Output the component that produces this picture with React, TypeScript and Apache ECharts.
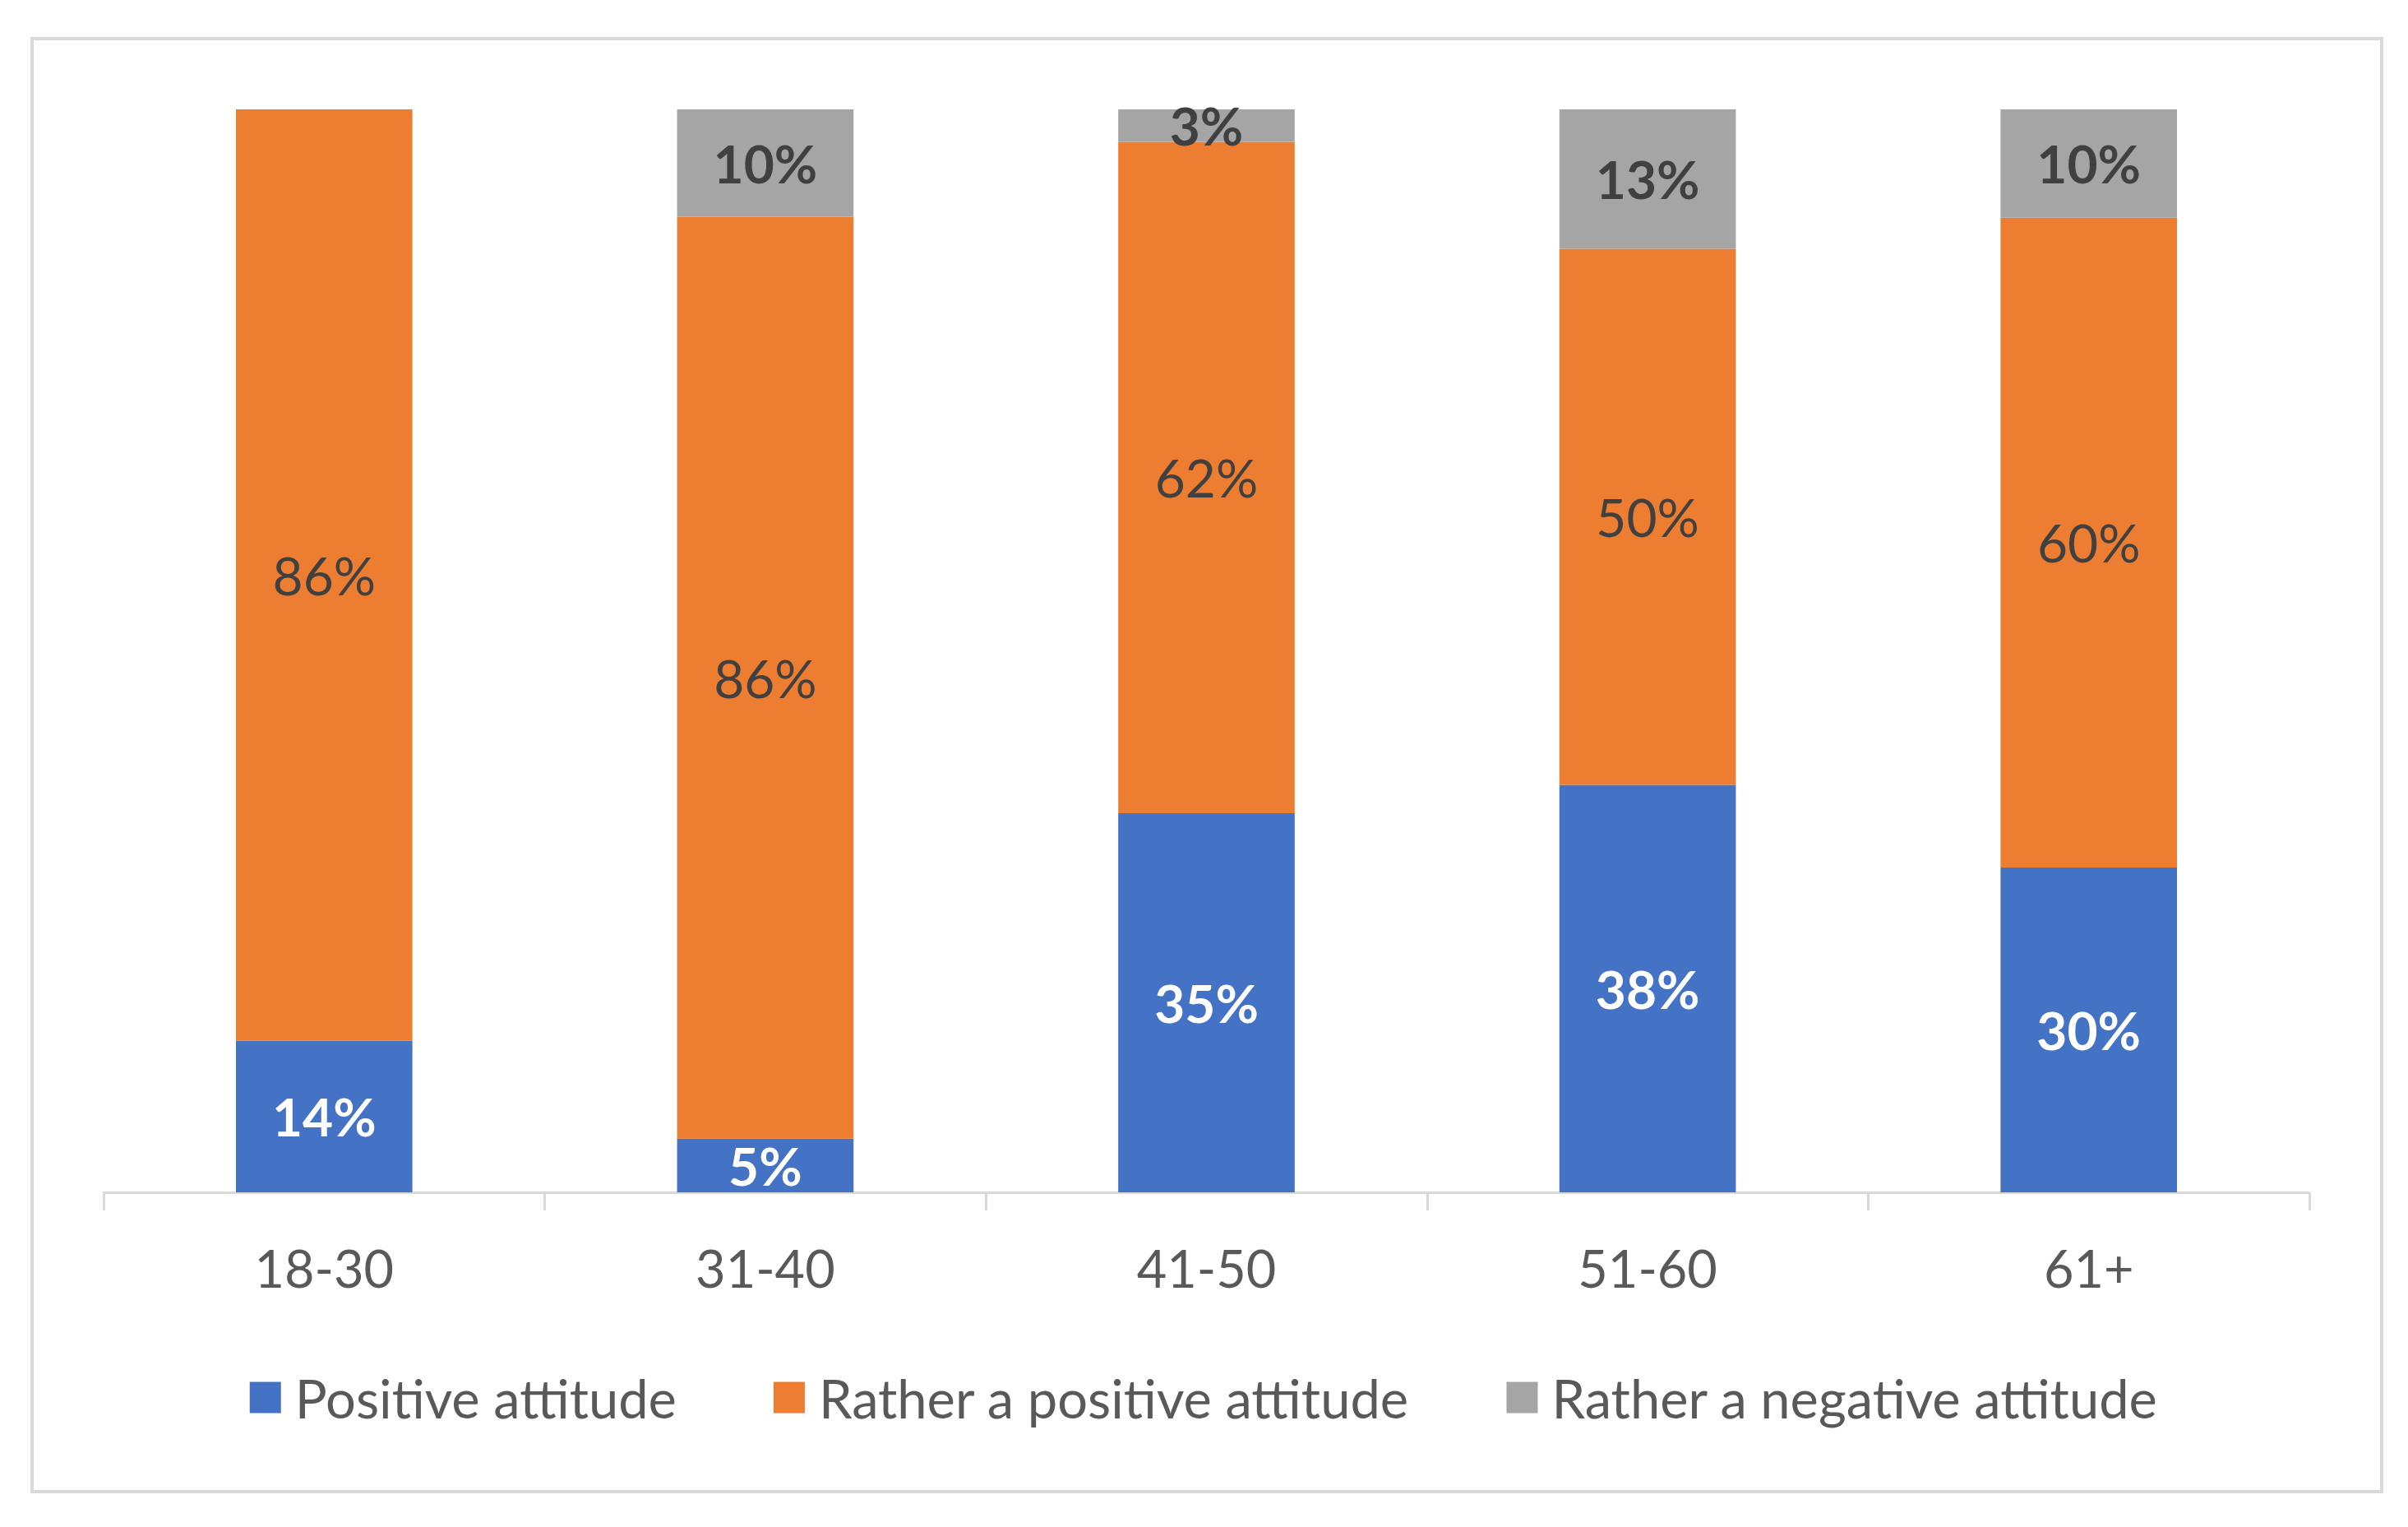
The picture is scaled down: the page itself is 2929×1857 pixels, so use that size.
import React, { useEffect, useRef } from "react";
import * as echarts from "echarts";

const categories = ["18-30", "31-40", "41-50", "51-60", "61+"];
const positive = [14, 5, 35, 38, 30];
const ratherPositive = [86, 86, 62, 50, 60];
const ratherNegative = [0, 10, 3, 13, 10];

const seriesNames = ["Positive attitude", "Rather a positive attitude", "Rather a negative attitude"];
const colors = ["#4472C4", "#ED7D31", "#A5A5A5"];

export default function App() {
  const ref = useRef<HTMLDivElement>(null);
  useEffect(() => {
    document.body.style.margin = "0";
    const chart = echarts.init(ref.current!, null, { renderer: "svg" });
    const raw = [positive, ratherPositive, ratherNegative];
    const totals = categories.map((_, i) => positive[i] + ratherPositive[i] + ratherNegative[i]);
    const font = "Lato";
    const labelStyles = [
      { color: "#FFFFFF", fontWeight: "bold" },
      { color: "#404040", fontWeight: "normal" },
      { color: "#404040", fontWeight: "bold" },
    ];
    const series = raw.map((arr, s) => ({
      name: seriesNames[s],
      type: "bar",
      stack: "total",
      barWidth: "40%",
      itemStyle: { color: colors[s] },
      data: arr.map((v, i) => (v / totals[i]) * 100),
      label: {
        show: true,
        position: "inside",
        fontFamily: font,
        fontSize: 64,
        ...labelStyles[s],
        formatter: (p: any) => (arr[p.dataIndex] > 0 ? arr[p.dataIndex] + "%" : ""),
      },
    }));
    chart.setOption({
      animation: false,
      backgroundColor: "#FFFFFF",
      textStyle: { fontFamily: font },
      graphic: [
        {
          type: "rect",
          shape: { x: 39, y: 47, width: 2858, height: 1767 },
          style: { fill: "none", stroke: "#D9D9D9", lineWidth: 4 },
          silent: true,
        },
      ],
      grid: { left: 126, right: 120, top: 133, bottom: 407 },
      legend: {
        bottom: 120,
        left: "center",
        itemWidth: 38,
        itemHeight: 38,
        itemGap: 118,
        icon: "rect",
        textStyle: { fontFamily: font, fontSize: 65, color: "#595959", padding: [0, 0, 0, 12] },
        data: seriesNames,
      },
      xAxis: {
        type: "category",
        data: categories,
        axisLine: { lineStyle: { color: "#D9D9D9", width: 3 } },
        axisTick: { show: true, length: 22, lineStyle: { color: "#D9D9D9", width: 3 } },
        axisLabel: { fontFamily: font, fontSize: 63, color: "#595959", margin: 60 },
      },
      yAxis: {
        type: "value",
        min: 0,
        max: 100,
        show: false,
        splitLine: { show: false },
      },
      series,
    });
    return () => chart.dispose();
  }, []);
  return <div ref={ref} style={{ width: 2929, height: 1857 }} />;
}
